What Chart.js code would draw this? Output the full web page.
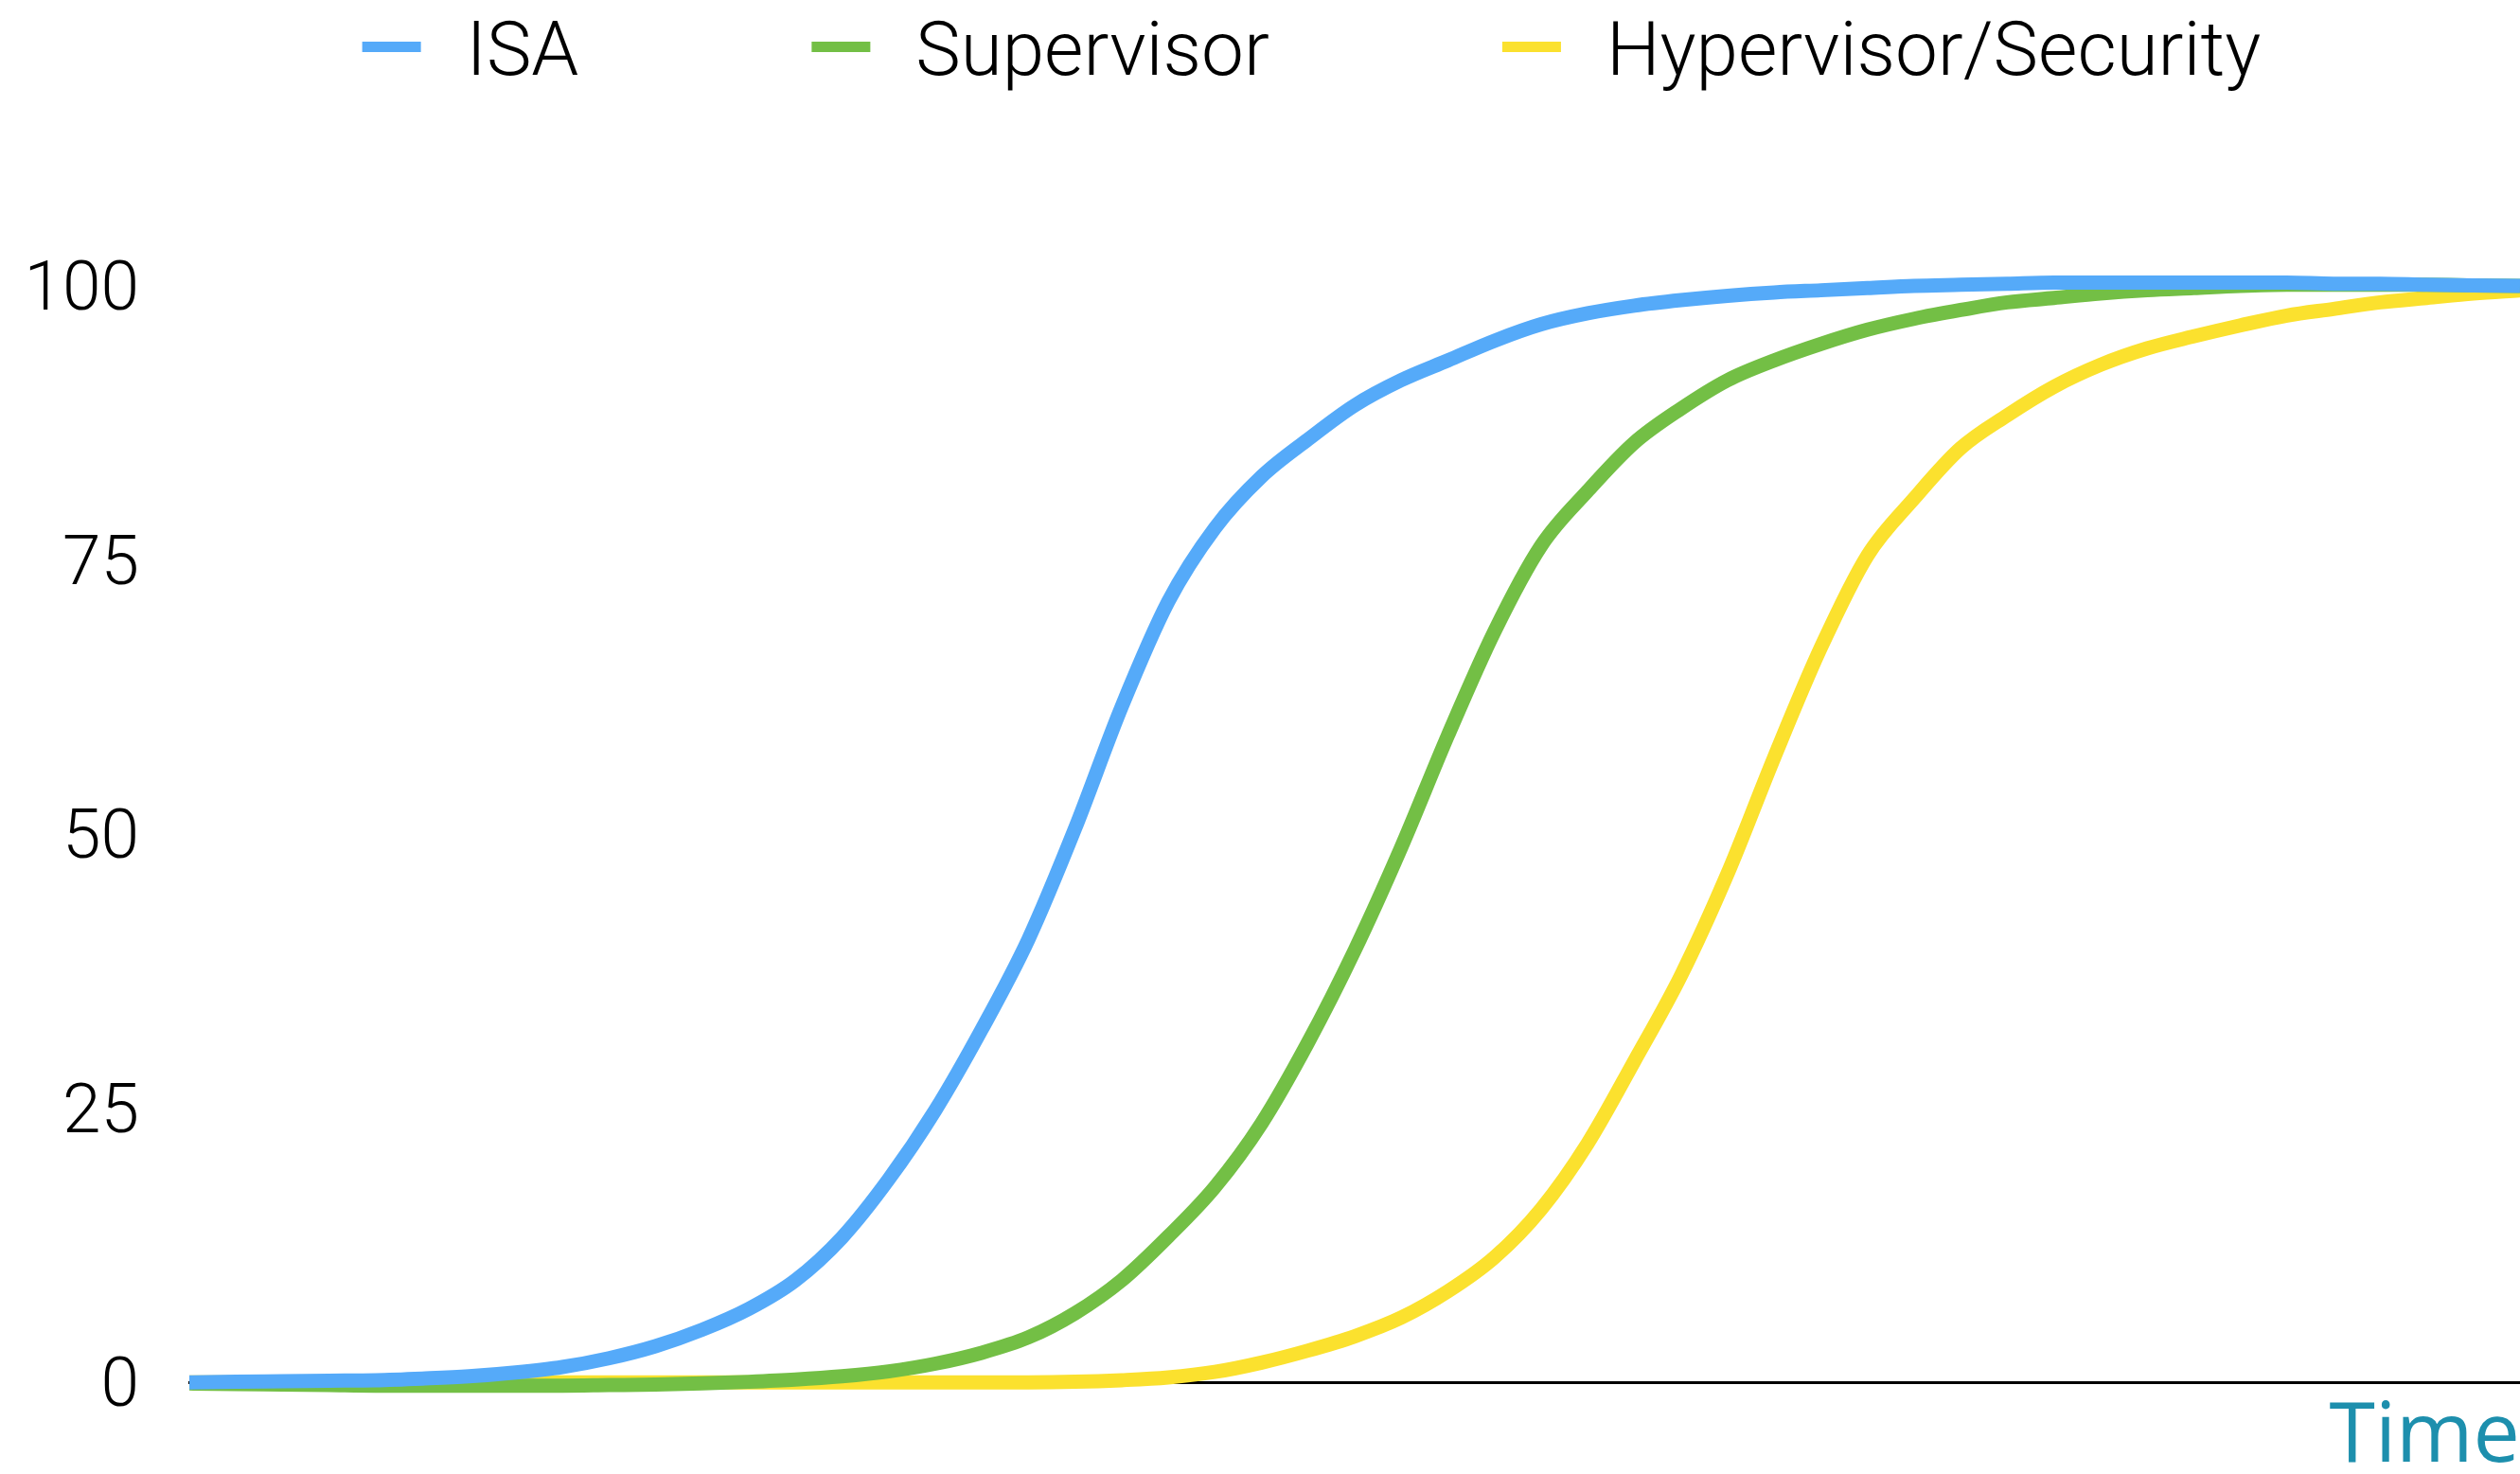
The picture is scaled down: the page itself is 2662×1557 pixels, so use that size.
<!DOCTYPE html>
<html>
<head>
<meta charset="utf-8">
<title>Adoption over time</title>
<script src="https://cdn.jsdelivr.net/npm/chart.js@4/dist/chart.umd.min.js"></script>
<style>
  html, body { margin: 0; padding: 0; background: #ffffff; }
  #wrap { width: 2662px; height: 1557px; position: relative; }
</style>
</head>
<body>
<div id="wrap"><canvas id="chart" width="2662" height="1557"></canvas></div>
<script>
// Time steps along the horizontal axis (no tick labels are shown)
const timeSteps = [0, 2, 4, 6, 8, 10, 12, 14, 16, 18, 20, 22, 24, 26, 28, 30, 32, 34, 36, 38, 40,
                   42, 44, 46, 48, 50, 52, 54, 56, 58, 60, 62, 64, 66, 68, 70, 72, 74, 76, 78, 80,
                   82, 84, 86, 88, 90, 92, 94, 96, 98, 100];

// Adoption level (0-100) of each layer at every time step
const isaShare = [0, 0.05, 0.1, 0.15, 0.2, 0.35, 0.55, 0.9, 1.4, 2.2, 3.3, 4.8, 6.7, 9.3, 13.2, 18.5,
                  24.8, 32.2, 40.4, 50.5, 61.6, 71.2, 77.9, 82.6, 86.0, 89.1, 91.4, 93.2, 95.0, 96.5,
                  97.5, 98.2, 98.7, 99.1, 99.4, 99.6, 99.8, 100.0, 100.1, 100.2, 100.3, 100.3, 100.3,
                  100.3, 100.3, 100.3, 100.2, 100.2, 100.1, 100.05, 100];

const supervisorShare = [-0.1, -0.15, -0.2, -0.25, -0.3, -0.3, -0.3, -0.3, -0.3, -0.25, -0.2, -0.1,
                         0.05, 0.25, 0.55, 1.0, 1.7, 2.7, 4.1, 6.3, 9.3, 13.3, 17.8, 23.6, 31.0, 39.4,
                         48.8, 59.0, 68.5, 76.3, 81.3, 85.7, 88.8, 91.4, 93.2, 94.7, 96.0, 97.0, 97.8,
                         98.5, 98.9, 99.3, 99.6, 99.8, 100.0, 100.1, 100.1, 100.1, 100.1, 100.05, 100];

const hypervisorShare = [0, 0, 0, 0, 0, 0, 0, 0, 0, 0, 0, 0, 0, 0, 0, 0, 0, 0, 0, 0.05, 0.2, 0.45,
                         0.95, 1.8, 2.9, 4.2, 5.9, 8.3, 11.4, 15.8, 21.8, 29.3, 37.1, 46.4, 57.0, 67.0,
                         75.4, 80.6, 85.2, 88.2, 90.8, 92.8, 94.3, 95.4, 96.4, 97.3, 97.9, 98.5, 98.9,
                         99.3, 99.6];

const seriesNames = ['ISA', 'Supervisor', 'Hypervisor/Security'];
const seriesColors = ['#55aaf9', '#73bf45', '#fbe12e'];
const yTickValues = [0, 25, 50, 75, 100];

// Legend row across the top: colour bar, gap, label, wide gap to next entry
const topLegend = {
  id: 'topLegend',
  afterDraw(chart, args, opts) {
    const ctx = chart.ctx;
    ctx.save();
    ctx.font = opts.font;
    ctx.textAlign = 'left';
    ctx.textBaseline = 'alphabetic';
    const items = chart.data.datasets.map(ds => ({
      label: ds.label,
      color: ds.borderColor,
      w: ctx.measureText(ds.label).width
    }));
    const total = items.reduce((s, it) => s + opts.boxWidth + opts.textGap + it.w, 0)
                + opts.itemGap * (items.length - 1);
    const area = chart.chartArea;
    const centerX = area.left + (area.right - area.left) * opts.centerFrac;
    let x = centerX - total / 2;
    items.forEach(it => {
      ctx.fillStyle = it.color;
      ctx.fillRect(x, opts.boxTop, opts.boxWidth, opts.boxHeight);
      ctx.fillStyle = opts.color;
      ctx.fillText(it.label, x + opts.boxWidth + opts.textGap, opts.baseline);
      x += opts.boxWidth + opts.textGap + it.w + opts.itemGap;
    });
    ctx.restore();
  }
};

const seriesValues = [isaShare, supervisorShare, hypervisorShare];

function build() {
  new Chart(document.getElementById('chart'), {
    type: 'line',
    data: {
      labels: timeSteps,
      datasets: seriesNames.map((name, i) => ({
        label: name,
        data: seriesValues[i],
        borderColor: seriesColors[i],
        backgroundColor: seriesColors[i],
        borderWidth: 15,
        borderCapStyle: 'butt',
        borderJoinStyle: 'round',
        pointRadius: 0,
        pointHoverRadius: 0,
        cubicInterpolationMode: 'monotone',
        fill: false,
        clip: false
      }))
    },
    options: {
      responsive: false,
      devicePixelRatio: 1,
      animation: false,
      events: [],
      layout: { padding: { top: 302, left: 0, right: 0, bottom: 0 } },
      plugins: {
        legend: { display: false },
        tooltip: { enabled: false },
        topLegend: {
          font: '300 80px Roboto, "Liberation Sans", sans-serif',
          color: '#000000',
          boxWidth: 62,
          boxHeight: 11,
          boxTop: 44,
          baseline: 79,
          textGap: 48,
          itemGap: 246,
          centerFrac: 0.4815
        }
      },
      scales: {
        x: {
          type: 'category',
          offset: false,
          grid: { display: false, drawTicks: false },
          border: { display: true, color: '#000000', width: 3 },
          ticks: { display: false },
          title: {
            display: true,
            text: 'Time',
            align: 'end',
            color: '#1d8fad',
            font: { family: '"Open Sans", "DejaVu Sans", sans-serif', size: 88, lineHeight: 0.78 },
            padding: { top: 0, bottom: 0 }
          },
          afterFit(scale) { scale.height = 93; }
        },
        y: {
          min: 0,
          max: 100,
          grid: { display: false, drawTicks: false },
          border: { display: false },
          afterBuildTicks(scale) { scale.ticks = yTickValues.map(v => ({ value: v })); },
          ticks: {
            color: '#000000',
            padding: 53,
            labelOffset: 7,
            font: { family: 'Roboto, "Liberation Sans", sans-serif', size: 73, weight: 300 }
          },
          afterFit(scale) { scale.width = 200; }
        }
      }
    },
    plugins: [topLegend]
  });
}

Promise.all([
  document.fonts.load('300 80px Roboto'),
  document.fonts.load('88px "Open Sans"')
]).catch(() => {}).then(build);
</script>
</body>
</html>
